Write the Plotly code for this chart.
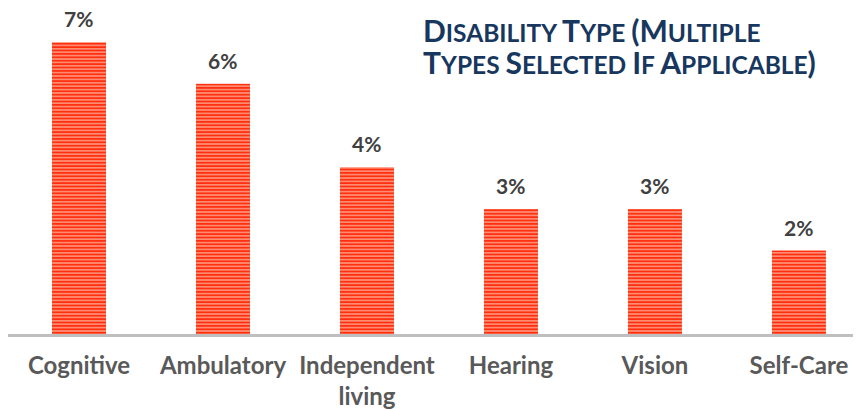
import plotly.graph_objects as go

categories = ["Cognitive", "Ambulatory", "Independent<br>living", "Hearing", "Vision", "Self-Care"]
values = [7, 6, 4, 3, 3, 2]
labels = ["7%", "6%", "4%", "3%", "3%", "2%"]

fig = go.Figure(go.Bar(
    x=categories, y=values,
    width=0.375,
    marker=dict(color="#FF4A2A", line=dict(width=0),
                pattern=dict(shape="-", fgcolor="#FF3010", bgcolor="#FFB09C", size=3.4,
                             solidity=0.65, fgopacity=1)),
    cliponaxis=False,
))

for c, v, t in zip(categories, values, labels):
    fig.add_annotation(x=c, y=v, text=t, showarrow=False, yanchor="bottom", yshift=9,
                       font=dict(family="Lato", size=21, color="#404040", weight="bold"))

B = "<span style='font-size:30px'>"
E = "</span>"
title = (f"{B}D{E}ISABILITY {B}T{E}YPE {B}(M{E}ULTIPLE<br>"
         f"{B}T{E}YPES {B}S{E}ELECTED {B}I{E}F {B}A{E}PPLICABLE{B}){E}")
fig.add_annotation(text=title, xref="paper", yref="paper", x=413/853, y=1 - 2/326,
                   xanchor="left", yanchor="top", showarrow=False, align="left",
                   font=dict(family="Lato", size=24.5, color="#17375E", weight="bold"))

fig.update_layout(
    width=853, height=401, margin=dict(l=0, r=0, t=0, b=75, autoexpand=False),
    plot_bgcolor="white", paper_bgcolor="white", showlegend=False,
    xaxis=dict(range=[-0.493, 5.431], showline=True, linecolor="#BFBFBF", linewidth=3,
               automargin=False, ticks="", ticklabelstandoff=8,
               tickfont=dict(family="Lato", size=24, color="#595959", weight="bold")),
    yaxis=dict(range=[0, 7.82], visible=False, showgrid=False, automargin=False),
)
fig.write_html("out.html")
